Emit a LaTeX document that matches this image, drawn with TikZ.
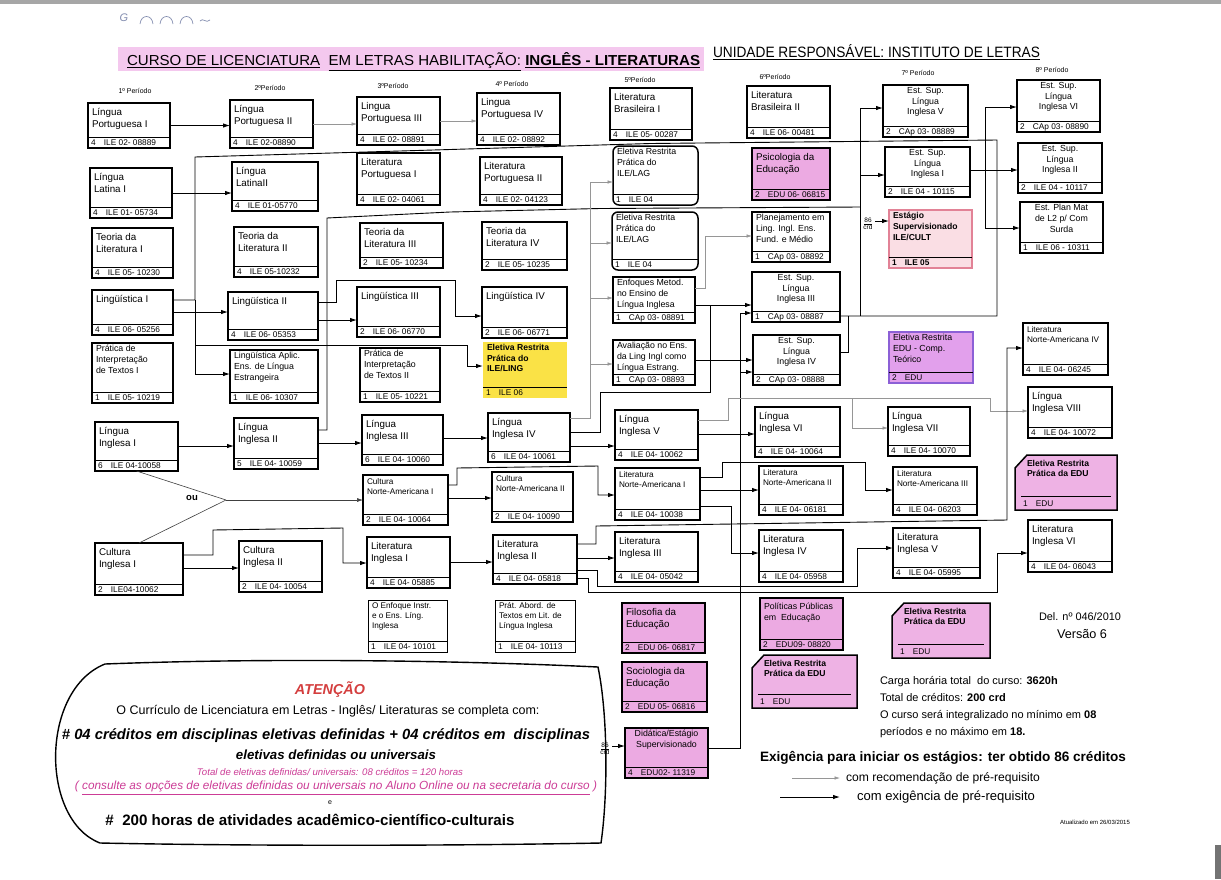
\documentclass[tikz,border=0pt]{standalone}
\usepackage{fontspec}
\setmainfont{Liberation Sans}
\usepackage{graphicx}
\usetikzlibrary{arrows.meta}
\definecolor{pinkfill}{RGB}{236,170,226}
\definecolor{pinkedu}{RGB}{238,178,228}
\definecolor{yel}{RGB}{250,226,70}
\definecolor{estfill}{RGB}{250,222,228}
\definecolor{estdraw}{RGB}{226,130,150}
\definecolor{purpfill}{RGB}{226,160,236}
\definecolor{purpdraw}{RGB}{140,96,214}
\definecolor{hdrpink}{RGB}{244,200,238}
\definecolor{attred}{RGB}{212,62,62}
\definecolor{pinktext}{RGB}{204,60,150}
\definecolor{recgray}{RGB}{150,150,150}
\definecolor{scribcol}{RGB}{130,140,175}

\newcommand\fT{\fontsize{9.8}{12.3}\selectfont}
\newcommand\fS{\fontsize{8.8}{10.6}\selectfont}
\newcommand\fN{\fontsize{8.2}{10}\selectfont}
\newcommand\fSB{\fontsize{8.6}{10.6}\selectfont\bfseries}
\newcommand\fF{\fontsize{8.3}{9}\selectfont}

\tikzset{
  tf/.code={\gdef\ctfont{#1}},
  ty/.code={\gdef\cty{#1}},
  three/.style={tf=\fS,ty=-2.5},
  nort/.style={tf=\fN,ty=-4},
  cbox/.style={draw=black,line width=1.5pt,fill=white,inner sep=0pt,outer sep=0pt,rectangle},
  pinkbox/.style={fill=pinkfill},
  lagbox/.style={rounded corners=6pt},
  yelbox/.style={draw=none,fill=yel},
  estbox/.style={draw=estdraw,fill=estfill},
  purpbox/.style={draw=purpdraw,fill=purpfill},
  thinbox/.style={line width=1pt},
  fline/.style={draw=black,line width=0.6pt},
  ctitle/.style={inner sep=0pt,outer sep=0pt},
  cfoot/.style={inner sep=0pt,outer sep=0pt,font=\fF},
  req/.style={draw=black,line width=0.9pt,-{Latex[length=7pt,width=4.5pt]}},
  rec/.style={draw=recgray,line width=0.6pt,-{Latex[length=5.5pt,width=3.5pt]}},
  lnk/.style={draw=black,line width=0.9pt},
  recl/.style={draw=recgray,line width=0.6pt},
  ouline/.style={draw=black!75,line width=0.6pt},
  ouarrow/.style={draw=black!75,line width=0.6pt,-{Latex[length=6pt,width=4pt]}},
  per/.style={font=\fontsize{7}{8}\selectfont,inner sep=0pt},
  plain/.style={inner sep=0pt,outer sep=0pt},
  scrib/.style={draw=scribcol,line width=0.7pt},
  crd/.style={inner sep=0pt,outer sep=0pt,font=\fontsize{6.5}{7}\selectfont,align=center},
}

\newcommand\course[8][]{%
  \gdef\ctfont{\fT}\gdef\cty{-5}%
  \node[cbox,#1,anchor=north west,minimum width={#5-#3},minimum height={#6-#4}] (#2) at (#3,#4) {};
  \draw[fline] ([yshift=11pt]#2.south west) -- ([yshift=11pt]#2.south east);
  \node[ctitle,font=\ctfont,align=left,anchor=north west] at ([xshift=4pt,yshift=\cty]#2.north west) {#7};
  \node[cfoot,anchor=base west] at ([xshift=3pt,yshift=2.4pt]#2.south west) {#8};
}
\newcommand\coursec[8][]{%
  \gdef\ctfont{\fS}\gdef\cty{-2.5}%
  \node[cbox,#1,anchor=north west,minimum width={#5-#3},minimum height={#6-#4}] (#2) at (#3,#4) {};
  \draw[fline] ([yshift=11pt]#2.south west) -- ([yshift=11pt]#2.south east);
  \node[ctitle,font=\ctfont,align=center,anchor=north] at ([yshift=\cty]#2.north) {#7};
  \node[cfoot,anchor=base west] at ([xshift=3pt,yshift=2.4pt]#2.south west) {#8};
}
\newcommand\edubox[5]{%
  \node[plain,anchor=north west,minimum width={#4-#2},minimum height={#5-#3}] (#1) at (#2,#3) {};
  \draw[line width=1.5pt,fill=pinkedu] (#1.south west) -- (#1.south east) -- (#1.north east) -- ([xshift=12pt]#1.north west) -- ([yshift=-13pt]#1.north west) -- cycle;
  \node[ctitle,font=\fSB,align=left,anchor=north west] at ([xshift=12pt,yshift=-5pt]#1.north west) {Eletiva Restrita\\Prática da EDU};
  \draw[fline] ([xshift=6pt,yshift=14pt]#1.south west) -- ([xshift=-6pt,yshift=14pt]#1.south east);
  \node[cfoot,anchor=base west] at ([xshift=8pt,yshift=4pt]#1.south west) {1\quad EDU};
}

\begin{document}
\begin{tikzpicture}[x=1pt,y=-1pt]
\useasboundingbox (0,0) rectangle (1221,879);
\fill[white] (0,0) rectangle (1221,879);
\fill[black!35] (0,0) rectangle (1221,4);
\fill[black!55] (1215,845) rectangle (1221,879);

% handwritten marks
\node[plain,text=scribcol,font=\itshape\fontsize{11}{12}\selectfont] (hw) at (124,18) {G};
\draw[scrib] (140,24) .. controls (141,14) and (152,14) .. (153,24);
\draw[scrib] (160,24) .. controls (161,14) and (172,14) .. (173,24);
\draw[scrib] (180,24) .. controls (181,14) and (192,14) .. (193,24);
\draw[scrib] (200,21) .. controls (203,17) and (206,24) .. (210,20);

% header
\fill[hdrpink] (118,47) rectangle (704,71);
\node[plain,anchor=base west] (h1) at (127,65) {\resizebox{573pt}{13pt}{\underline{CURSO DE LICENCIATURA}\ \ \underline{EM LETRAS HABILITAÇÃO:} \underline{\textbf{INGLÊS - LITERATURAS}}}};
\node[plain,anchor=base west] (h2) at (713,57) {\resizebox{327pt}{13pt}{\underline{UNIDADE RESPONSÁVEL: INSTITUTO DE LETRAS}}};

% period labels
\node[per] (p1) at (135,91) {1º Período};
\node[per] (p2) at (270,88) {2ºPeríodo};
\node[per] (p3) at (393,86) {3ºPeríodo};
\node[per] (p4) at (512,84) {4º Período};
\node[per] (p5) at (640,80) {5ºPeríodo};
\node[per] (p6) at (775,77) {6ºPeríodo};
\node[per] (p7) at (918,73) {7º Período};
\node[per] (p8) at (1052,70) {8º Período};

% column 1
\course{lp1}{88}{103}{170}{148}{Língua\\Portuguesa I}{4\quad ILE 02- 08889}
\course{ll1}{90}{168}{172}{218}{Língua\\Latina I}{4\quad ILE 01- 05734}
\course{tl1}{92}{228}{173}{278}{Teoria da\\Literatura I}{4\quad ILE 05- 10230}
\course{lg1}{92}{290}{173}{335}{Lingüística I}{4\quad ILE 06- 05256}
\course[three]{pi1}{92}{343}{173}{403}{Prática de\\Interpretação\\de Textos I}{1\quad ILE 05- 10219}
\course{li1}{95}{422}{178}{471}{Língua\\Inglesa I}{6\quad ILE 04-10058}
\course{ci1}{95}{543}{183}{595}{Cultura\\Inglesa I}{2\quad ILE04-10062}

% column 2
\course{lp2}{230}{100}{313}{148}{Língua\\Portuguesa II}{4\quad ILE 02-08890}
\course{ll2}{232}{162}{318}{211}{Língua\\LatinaII}{4\quad ILE 01-05770}
\course{tl2}{234}{227}{318}{277}{Teoria da\\Literatura II}{4\quad ILE 05-10232}
\course{lg2}{228}{292}{318}{340}{Lingüística II}{4\quad ILE 06- 05353}
\course[three]{la2}{230}{350}{318}{403}{Lingüística Aplic.\\Ens. de Língua\\Estrangeira}{1\quad ILE 06- 10307}
\course{li2}{234}{418}{318}{469}{Língua\\Inglesa II}{5\quad ILE 04- 10059}
\course{ci2}{239}{541}{322}{592}{Cultura\\Inglesa II}{2\quad ILE 04- 10054}

% column 3
\course{lp3}{357}{97}{440}{145}{Lingua\\Portuguesa III}{4\quad ILE 02- 08891}
\course{lpo1}{357}{153}{440}{205}{Literatura\\Portuguesa I}{4\quad ILE 02- 04061}
\course{tl3}{360}{223}{443}{268}{Teoria da\\Literatura III}{2\quad ILE 05- 10234}
\course{lg3}{357}{287}{440}{337}{Lingüística III}{2\quad ILE 06- 06770}
\course[three]{pi2}{360}{348}{440}{402}{Prática de\\Interpretação\\de Textos II}{1\quad ILE 05- 10221}
\course{li3}{362}{415}{443}{465}{Língua\\Inglesa III}{6\quad ILE 04- 10060}
\course[nort]{cn1}{363}{475}{448}{525}{Cultura\\Norte-Americana I}{2\quad ILE 04- 10064}
\course{lit1}{367}{537}{450}{588}{Literatura\\Inglesa I}{4\quad ILE 04- 05885}
\course[thinbox,three,tf=\fN]{oe}{368}{600}{447}{652}{O Enfoque Instr.\\e o Ens. Líng.\\Inglesa}{1\quad ILE 04- 10101}

% column 4
\course{lp4}{477}{93}{560}{145}{Lingua\\Portuguesa IV}{4\quad ILE 02- 08892}
\course{lpo2}{480}{157}{562}{205}{Literatura\\Portuguesa II}{4\quad ILE 02- 04123}
\course{tl4}{482}{222}{567}{270}{Teoria da\\Literatura IV}{2\quad ILE 05- 10235}
\course{lg4}{482}{287}{567}{338}{Lingüística IV}{2\quad ILE 06- 06771}
\course[yelbox,three,tf=\fSB]{ering}{483}{342}{567}{398}{Eletiva Restrita\\Prática do\\ILE/LING}{1\quad ILE 06}
\course{li4}{488}{413}{570}{462}{Língua\\Inglesa IV}{6\quad ILE 04- 10061}
\course[nort]{cn2}{492}{472}{573}{522}{Cultura\\Norte-Americana II}{2\quad ILE 04- 10090}
\course{lit2}{493}{535}{577}{584}{Literatura\\Inglesa II}{4\quad ILE 04- 05818}
\course[thinbox,three,tf=\fN]{pa}{495}{600}{575}{652}{Prát. Abord. de\\Textos em Lit. de\\Língua Inglesa}{1\quad ILE 04- 10113}

% column 5
\course{lb1}{610}{88}{692}{140}{Literatura\\Brasileira I}{4\quad ILE 05- 00287}
\course[lagbox,three]{lag1}{613}{146}{698}{205}{Eletiva Restrita\\Prática do\\ILE/LAG}{1\quad ILE 04}
\course[lagbox,three]{lag2}{612}{212}{698}{270}{Eletiva Restrita\\Prática do\\ILE/LAG}{1\quad ILE 04}
\course[three]{em}{613}{277}{695}{323}{Enfoques Metod.\\no Ensino de\\Língua Inglesa}{1\quad CAp 03- 08891}
\course[three]{av}{613}{340}{695}{385}{Avaliação no Ens.\\da Ling Ingl como\\Língua Estrang.}{1\quad CAp 03- 08893}
\course{li5}{615}{410}{698}{460}{Língua\\Inglesa V}{4\quad ILE 04- 10062}
\course[nort]{ln1}{615}{468}{700}{520}{Literatura\\Norte-Americana I}{4\quad ILE 04- 10038}
\course{lit3}{615}{532}{698}{582}{Literatura\\Inglesa III}{4\quad ILE 04- 05042}
\course[pinkbox]{fe}{622}{603}{705}{653}{Filosofia da\\Educação}{2\quad EDU 06- 06817}
\course[pinkbox]{se}{622}{662}{707}{712}{Sociologia da\\Educação}{2\quad EDU 05- 06816}
\coursec[pinkbox]{de}{625}{728}{708}{778}{Didática/Estágio\\Supervisionado}{4\quad EDU02- 11319}

% column 6
\course{lb2}{747}{86}{830}{138}{Literatura\\Brasileira II}{4\quad ILE 06- 00481}
\course[pinkbox]{pe}{752}{148}{830}{200}{Psicologia da\\Educação}{2\quad EDU 06- 06815}
\course[three]{pl}{752}{212}{830}{262}{Planejamento em\\Ling. Ingl. Ens.\\Fund. e Médio}{1\quad CAp 03- 08892}
\coursec{es3}{752}{272}{840}{322}{Est. Sup.\\Língua\\Inglesa III}{1\quad CAp 03- 08887}
\coursec{es4}{753}{335}{840}{385}{Est. Sup.\\Língua\\Inglesa IV}{2\quad CAp 03- 08888}
\course{li6}{755}{407}{840}{457}{Língua\\Inglesa VI}{4\quad ILE 04- 10064}
\course[nort]{ln2}{759}{466}{843}{515}{Literatura\\Norte-Americana II}{4\quad ILE 04- 06181}
\course{lit4}{759}{530}{843}{582}{Literatura\\Inglesa IV}{4\quad ILE 04- 05958}
\course[pinkbox,tf=\fS]{pp}{760}{598}{843}{650}{Políticas Públicas\\em\ \ Educação}{2\quad EDU09- 08820}
\edubox{ed1}{752}{655}{857}{708}

% column 7
\coursec{es5}{883}{85}{968}{137}{Est. Sup.\\Língua\\Inglesa V}{2\quad CAp 03- 08889}
\coursec{es1}{885}{147}{970}{197}{Est. Sup.\\Língua\\Inglesa I}{2\quad ILE 04 - 10115}
\course[estbox,three,tf=\fSB]{ec}{889}{210}{972}{268}{Estágio\\Supervisionado\\ILE/CULT}{\textbf{1\quad ILE 05}}
\course[purpbox,three]{eco}{889}{332}{973}{383}{Eletiva Restrita\\EDU - Comp.\\Teórico}{2\quad EDU}
\course{li7}{888}{407}{970}{456}{Língua\\Inglesa VII}{4\quad ILE 04- 10070}
\course[nort]{ln3}{893}{467}{977}{515}{Literatura\\Norte-Americana III}{4\quad ILE 04- 06203}
\course{lit5}{893}{528}{980}{578}{Literatura\\Inglesa V}{4\quad ILE 04- 05995}
\edubox{ed2}{892}{603}{990}{658}

% column 8
\coursec{es6}{1017}{80}{1100}{132}{Est. Sup.\\Língua\\Inglesa VI}{2\quad CAp 03- 08890}
\coursec{es2}{1018}{143}{1102}{193}{Est. Sup.\\Língua\\Inglesa II}{2\quad ILE 04 - 10117}
\coursec{epm}{1020}{202}{1103}{253}{Est. Plan Mat\\de L2 p/ Com\\Surda}{1\quad ILE 06 - 10311}
\course[nort]{ln4}{1023}{323}{1108}{375}{Literatura\\Norte-Americana IV}{4\quad ILE 04- 06245}
\course{li8}{1028}{387}{1112}{438}{Língua\\Inglesa VIII}{4\quad ILE 04- 10072}
\edubox{ed3}{1015}{455}{1117}{510}
\course{lit6}{1028}{520}{1112}{572}{Literatura\\Inglesa VI}{4\quad ILE 04- 06043}

% ---------- connectors ----------
\draw[req] (lp1.east) -- (lp1.east -| lp2.west);
\draw[rec] (lp2.east) -- (lp2.east -| lp3.west);
\draw[rec] (lp3.east) -- (lp3.east -| lp4.west);
\draw[req] (ll1.east) -- (ll1.east -| ll2.west);

% Linguistica I
\draw[lnk] (lg1.east |- 0,300) -- (195,300) -- (195,157) -- (400,151) -- (650,143.5) -- (997,140) -- (997,316) -- (es3.east |- 0,316);
\draw[req] (lg1.east |- 0,312) -- (lg2.west |- 0,312);
\draw[req] (195,300) -- (195,374) -- (la2.west |- 0,374);
\draw[req] (195,345) -- (467,345) -- (467,366) -- (ering.west |- 0,366);

% Linguistica II
\draw[req] (lg2.east |- 0,320) -- (lg3.west |- 0,320);
\draw[req] (lg2.east |- 0,302) -- (336,302) -- (336,280) -- (455,280) -- (455,316) -- (lg4.west |- 0,316);

% Lingua Inglesa II long line
\draw[lnk] (li2.east |- 0,430) -- (327,430) -- (327,218) -- (450,212) -- (600,208.5) -- (860,207);

% Est. Sup. feeders
\draw[req] (860,316) -- (860,108) -- (es5.west |- 0,108);
\draw[req] (860,175) -- (es1.west |- 0,175);
\draw[lnk] (es4.east |- 0,352) -- (848,352) -- (848,316);
\draw[req] (es1.east |- 0,170) -- (es2.west |- 0,170);
\draw[req] (985,170) |- (es6.west |- 0,107);
\draw[req] (985,170) |- (epm.west |- 0,228);

% recommendations to 5th period
\draw[recl] (li4.east |- 0,418) -- (590,418) -- (590,182);
\draw[rec] (590,182) -- (lag1.west |- 0,182);
\draw[rec] (590,243) -- (lag2.west |- 0,243);
\draw[rec] (590,298) -- (em.west |- 0,298);
\draw[rec] (590,364) -- (av.west |- 0,364);
\draw[rec] (em.east |- 0,288) -- (705,288) -- (705,236) -- (pl.west |- 0,236);

% Lingua Inglesa IV -> Est. Sup.
\draw[lnk] (li4.east |- 0,432) -- (600,432) -- (600,392) -- (710,392) -- (710,305);
\draw[req] (em.east |- 0,305) -- (es3.west |- 0,305);
\draw[req] (av.east |- 0,360) -- (es4.west |- 0,360);

% Didatica -> Est. Sup.
\draw[lnk] (de.east |- 0,748) -- (740,748) -- (740,313);
\draw[req] (740,313) -- (es3.west |- 0,313);
\draw[req] (740,372) -- (es4.west |- 0,372);
\node[crd] (c86a) at (605,749) {\underline{86}\\crd};
\draw[req] (612,746) -- (de.west |- 0,746);
\node[crd] (c86b) at (868,224) {\underline{86}\\crd};
\draw[req] (875,221) -- (ec.west |- 0,221);

% Lingua Inglesa chain
\draw[req] (li1.east |- 0,446) -- (li2.west |- 0,446);
\draw[req] (li2.east |- 0,443) -- (li3.west |- 0,443);
\draw[req] (li3.east |- 0,438) -- (li4.west |- 0,438);
\draw[req] (li4.east |- 0,446) -- (li5.west |- 0,446);
\draw[req] (li5.east |- 0,434) -- (li6.west |- 0,434);
\draw[recl] (li5.east |- 0,420) -- (728,420) -- (728,398) -- (990,398);
\draw[rec] (990,398) -- (990,411) -- (li8.west |- 0,411);
\draw[rec] (852,398) -- (852,428) -- (li7.west |- 0,428);

% "ou"
\coordinate (ouj) at (226,500);
\draw[ouline] (li1.south) -- (ouj);
\draw[ouline] (ci1.north) -- (ouj);
\draw[ouarrow] (ouj) -- (cn1.west |- ouj);
\node[plain,font=\bfseries\fontsize{9.5}{11}\selectfont] (ou) at (192,498) {ou};

% culturas / literaturas
\draw[req] (ci1.east |- 0,568) -- (ci2.west |- 0,568);
\draw[req] (ci1.east |- 0,555) -- (213,555) -- (213,530) -- (343,528) -- (343,563) -- (lit1.west |- 0,563);
\draw[req] (cn1.east |- 0,498) -- (cn2.west |- 0,498);
\draw[req] (cn1.east |- 0,485) -- (457,485) -- (457,468) -- (598,466) -- (598,495) -- (ln1.west |- 0,495);
\draw[req] (lit1.east |- 0,562) -- (lit2.west |- 0,562);
\draw[req] (lit2.east |- 0,558) -- (lit3.west |- 0,558);
\draw[req] (lit2.east |- 0,544) -- (596,544) -- (596,526) -- (1007,520) -- (1007,348) -- (ln4.west |- 0,348);
\draw[req] (lit2.east |- 0,570) -- (597,570) -- (597,586) -- (857,586) -- (857,548) -- (lit5.west |- 0,548);
\draw[req] (lit2.east |- 0,578) -- (588,578) -- (588,592) -- (997,592) -- (997,553) -- (lit6.west |- 0,553);
\draw[req] (ln1.east |- 0,490) -- (ln2.west |- 0,490);
\draw[req] (ln1.east |- 0,477) -- (722,477) -- (722,462) -- (865,462) -- (865,490) -- (ln3.west |- 0,490);
\draw[req] (ln1.east |- 0,506) -- (731,506) -- (731,553) -- (lit4.west |- 0,553);

% ---------- ATENCAO box ----------
\draw[line width=1.4pt] (105,664) .. controls (260,658) and (450,660) .. (598,667) .. controls (608,715) and (608,795) .. (601,843) .. controls (440,846) and (250,846) .. (100,843) .. controls (40,820) and (40,690) .. (105,664) -- cycle;
\node[plain,text=attred] (att) at (330,690) {\resizebox{70pt}{!}{\bfseries\itshape ATENÇÃO}};
\node[plain] (att1) at (328,711) {\resizebox{423pt}{!}{O Currículo de Licenciatura em Letras - Inglês/ Literaturas se completa com:}};
\node[plain] (att2) at (326,736) {\resizebox{528pt}{!}{\bfseries\itshape \# 04 créditos em disciplinas eletivas definidas + 04 créditos em \ disciplinas}};
\node[plain] (att3) at (336,755) {\resizebox{200pt}{!}{\bfseries\itshape eletivas definidas ou universais}};
\node[plain,text=pinktext] (att4) at (330,772) {\resizebox{266pt}{!}{\itshape Total de eletivas definidas/ universais: 08 créditos = 120 horas}};
\node[plain,text=pinktext] (att5) at (336,788) {\resizebox{522pt}{!}{\itshape ( \underline{consulte as opções de eletivas definidas ou universais no Aluno Online ou na secretaria do curso} )}};
\node[plain,font=\fontsize{7}{8}\selectfont] (att6) at (330,803) {e};
\node[plain] (att7) at (310,820) {\resizebox{409pt}{!}{\bfseries \# \ 200 horas de atividades acadêmico-científico-culturais}};

% ---------- right bottom texts ----------
\node[plain] (del) at (1080,617) {\resizebox{82pt}{!}{Del. nº 046/2010}};
\node[plain] (ver) at (1082,634) {\resizebox{50pt}{!}{Versão 6}};
\node[plain,anchor=base west,font=\fontsize{11}{12}\selectfont] (cg1) at (880,684) {Carga horária total \ do curso: \textbf{3620h}};
\node[plain,anchor=base west,font=\fontsize{11}{12}\selectfont] (cg2) at (880,701) {Total de créditos: \textbf{200 crd}};
\node[plain,anchor=base west,font=\fontsize{11}{12}\selectfont] (cg3) at (880,718) {O curso será integralizado no mínimo em \textbf{08}};
\node[plain,anchor=base west,font=\fontsize{11}{12}\selectfont] (cg4) at (880,735) {períodos e no máximo em \textbf{18.}};
\node[plain] (exi) at (943,758) {\resizebox{366pt}{!}{\bfseries Exigência para iniciar os estágios: ter obtido 86 créditos}};
\coordinate (lga) at (792,778);
\coordinate (lgb) at (840,778);
\draw[rec] (lga) -- (lgb);
\node[plain,anchor=west] (lgt1) at (846,778) {\resizebox{194pt}{!}{com recomendação de pré-requisito}};
\coordinate (lgc) at (780,797);
\coordinate (lgd) at (840,797);
\draw[req] (lgc) -- (lgd);
\node[plain,anchor=west] (lgt2) at (857,797) {\resizebox{178pt}{!}{com exigência de pré-requisito}};
\node[plain,font=\fontsize{6}{7}\selectfont] (upd) at (1095,822) {Atualizado em 26/03/2015};
\end{tikzpicture}
\end{document}
